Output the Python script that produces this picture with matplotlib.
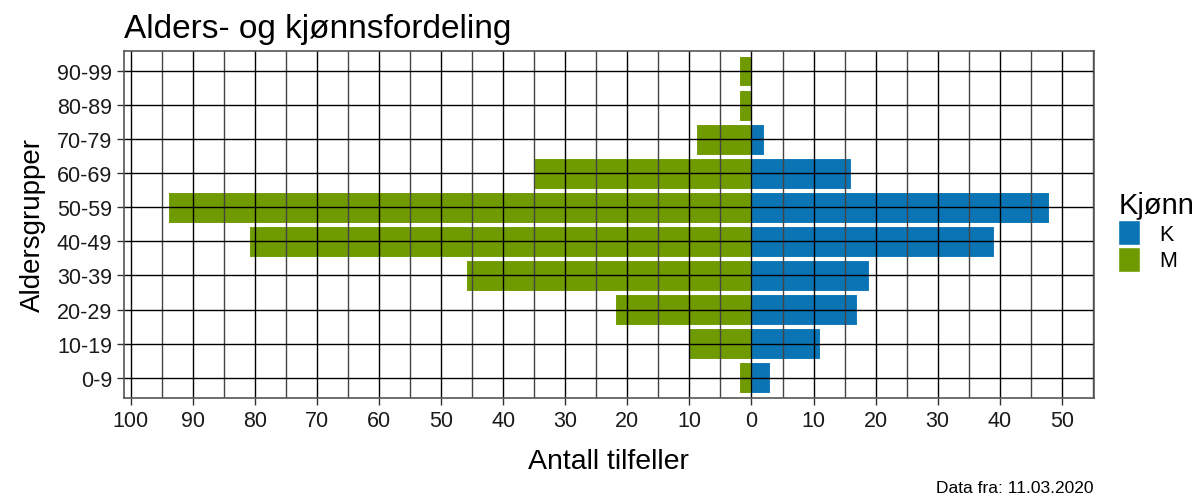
import matplotlib.pyplot as plt
from matplotlib.patches import Patch
import numpy as np

plt.rcParams['font.family'] = ['Liberation Sans', 'DejaVu Sans']

# Data
age_groups = ['0-9', '10-19', '20-29', '30-39', '40-49', '50-59', '60-69', '70-79', '80-89', '90-99']
menn = [2, 10, 22, 46, 81, 94, 35, 9, 2, 2]
kvinner = [3, 11, 17, 19, 39, 48, 16, 2, 0, 0]
x_ticks = list(range(-100, 51, 10))

green = '#6f9a00'
blue = '#0b74b5'

fig = plt.figure(figsize=(12.03, 5.02), dpi=100)
ax = fig.add_axes([0.103, 0.205, 0.806, 0.692])

y = np.arange(len(age_groups))
ax.barh(y, [-v for v in menn], height=0.9, color=green, edgecolor='white', linewidth=0.8, zorder=1)
ax.barh(y, kvinner, height=0.9, color=blue, edgecolor='white', linewidth=0.8, zorder=1)

# ggplot-like expansion
lo, hi = -max(menn), max(kvinner)
pad = 0.05 * (hi - lo)
ax.set_xlim(lo - pad, hi + pad)
ax.set_ylim(-0.6, len(age_groups) - 0.4)

ax.set_xticks(x_ticks)
ax.set_xticklabels([str(abs(t)) for t in x_ticks])
ax.set_xticks(list(range(-95, 56, 10)), minor=True)
ax.set_yticks(y)
ax.set_yticklabels(age_groups)

ax.set_axisbelow(False)
ax.grid(True, which='major', color='black', linewidth=1, zorder=2)
ax.grid(True, which='minor', axis='x', color='#444444', linewidth=1, zorder=2)
ax.tick_params(which='major', length=5, width=1, color='#333333', labelsize=15.5, labelcolor='#1a1a1a')
ax.tick_params(which='minor', length=0)
for s in ax.spines.values():
    s.set_color('#555555')
    s.set_linewidth(1.2)
    s.set_zorder(3)

ax.set_xlabel('Antall tilfeller', fontsize=20.5, labelpad=12)
ax.set_ylabel('Aldersgrupper', fontsize=20, labelpad=8)
fig.text(0.103, 0.91, 'Alders- og kjønnsfordeling', fontsize=24, ha='left', va='bottom')
fig.text(0.909, 0.012, 'Data fra: 11.03.2020', fontsize=12.5, ha='right', va='bottom')

handles = [Patch(facecolor=blue, edgecolor='white'), Patch(facecolor=green, edgecolor='white')]
leg = ax.legend(handles, ['K', 'M'], title='Kjønn', loc='upper left', bbox_to_anchor=(1.01, 0.64),
                frameon=False, fontsize=15.5, title_fontsize=21, handlelength=1.0, handleheight=1.45,
                labelspacing=0.05, handletextpad=0.9, borderaxespad=0.3)
leg._legend_box.align = 'left'

fig.savefig('out.png', dpi=100)
